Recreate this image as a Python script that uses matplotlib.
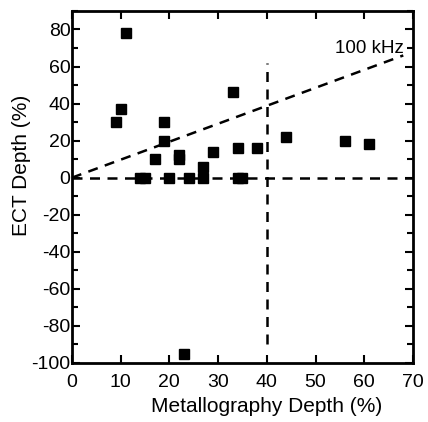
import matplotlib
matplotlib.use("Agg")
import matplotlib.pyplot as plt
from matplotlib.ticker import MultipleLocator

metallography = [11, 10, 9, 19, 19, 17, 22, 22, 27, 29, 33, 34, 38,
                 14, 15, 20, 24, 27, 34, 35, 44, 56, 61, 23]
ect = [78, 37, 30, 30, 20, 10, 12, 10, 6, 14, 46, 16, 16,
       0, 0, 0, 0, 0, 0, 0, 22, 20, 18, -95]

line_x = [0, 68]
line_y = [0, 66]
zero_x = [0, 70]
zero_y = [0, 0]
vert_x = [40, 40]
vert_y = [-90, 62]

plt.rcParams['font.family'] = ['Liberation Sans', 'DejaVu Sans']
plt.rcParams['axes.unicode_minus'] = False

fig = plt.figure(figsize=(4.28, 4.22), dpi=100)
ax = fig.add_axes([0.168, 0.140, 0.797, 0.834])

ax.plot(zero_x, zero_y, 'k--', lw=1.8, dashes=(4, 3))
ax.plot(vert_x, vert_y, 'k--', lw=1.8, dashes=(4, 3))
ax.plot(line_x, line_y, 'k--', lw=1.8, dashes=(4, 3))
ax.plot(metallography, ect, 's', color='black', markersize=7.5, zorder=5, clip_on=False)

ax.text(68, 70, '100 kHz', ha='right', va='center', fontsize=13.5)

ax.set_xlim(0, 70)
ax.set_ylim(-100, 90)
ax.xaxis.set_major_locator(MultipleLocator(10))
ax.yaxis.set_major_locator(MultipleLocator(20))
ax.yaxis.set_minor_locator(MultipleLocator(10))
ax.tick_params(which='both', direction='in', top=True, right=True, width=1.5, labelsize=14)
ax.tick_params(which='major', length=6)
ax.tick_params(which='minor', length=4)
ax.tick_params(axis='x', pad=8)
ax.tick_params(axis='y', pad=1)
for sp in ax.spines.values():
    sp.set_linewidth(2)

ax.set_xlabel('Metallography Depth (%)', fontsize=15)
ax.set_ylabel('ECT Depth (%)', fontsize=15)
ax.xaxis.set_label_coords(0.572, -0.125)
ax.xaxis.label.set_va('center')
ax.yaxis.set_label_coords(-0.147, 0.56)
ax.yaxis.label.set_va('center')

fig.savefig('out.png', dpi=100)
